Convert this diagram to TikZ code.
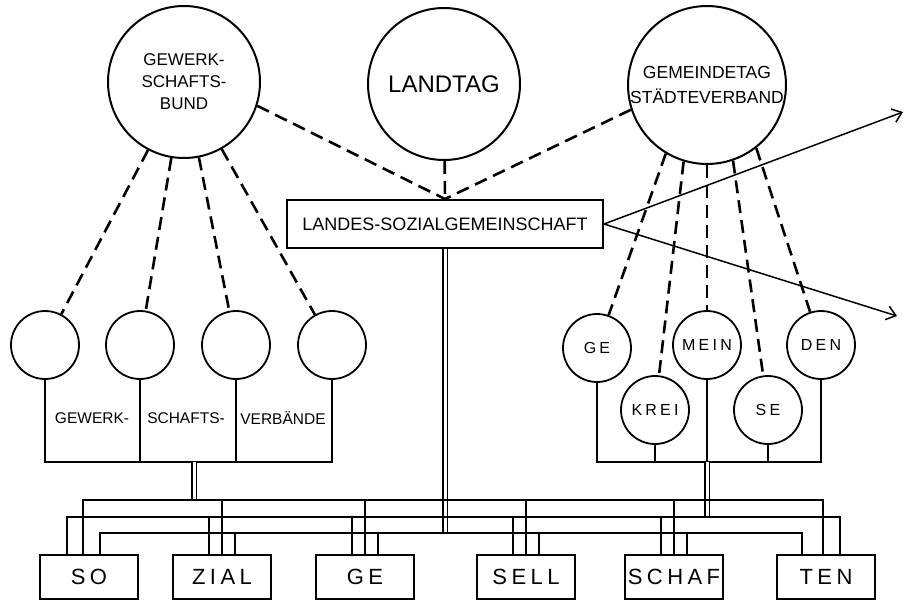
\documentclass[tikz,border=0pt]{standalone}
\usepackage{fontspec}
\setmainfont{Liberation Sans}
\newfontfamily\spacedfont[LetterSpace=20]{Liberation Sans}
\usetikzlibrary{arrows.meta, calc}

\begin{document}
\begin{tikzpicture}[x=1pt, y=-1pt,
  bigcirc/.style={draw, circle, line width=2pt, minimum size=152pt, inner sep=0pt, align=center},
  smallcirc/.style={draw, circle, line width=1.8pt, minimum size=68pt, inner sep=0pt, font=\spacedfont\fontsize{16}{18}\selectfont},
  unitbox/.style={draw, line width=1.8pt, minimum width=98pt, minimum height=44pt, inner sep=0pt, font=\spacedfont\fontsize{22}{24}\selectfont},
  link/.style={line width=2.6pt, dash pattern=on 13pt off 7pt},
  wire/.style={line width=1.6pt},
  bus/.style={line width=1.6pt},
  feed/.style={double, double distance=3pt, line width=1.2pt},
  outarrow/.style={line width=1.5pt, -{Straight Barb[length=9pt, width=14pt, line width=1.5pt]}}]
\useasboundingbox (0,0) rectangle (908,603);
\fill[white] (0,0) rectangle (908,603);
% top row: the three big bodies and the joint committee
\node[bigcirc, font=\fontsize{17}{22}\selectfont] (gwb) at (184,82) {GEWERK-\\SCHAFTS-\\BUND};
\node[bigcirc, font=\fontsize{24}{26}\selectfont] (landtag) at (444,84) {LANDTAG};
\node[bigcirc, minimum size=154pt, font=\fontsize{17.5}{25}\selectfont] (gemeinde) at (707,85) {GEMEINDETAG\\STÄDTEVERBAND};
\node[draw, line width=2pt, minimum width=316pt, minimum height=48pt, font=\fontsize{18}{20}\selectfont] (lsg) at (445,224) {LANDES-SOZIALGEMEINSCHAFT};
% left group: unions
\foreach \x [count=\i] in {45,140,236,332} { \node[smallcirc] (g\i) at (\x,345) {}; }
\node[font=\fontsize{15.5}{17}\selectfont] (lab1) at (92,418) {GEWERK-};
\node[font=\fontsize{15.5}{17}\selectfont] (lab2) at (186,418) {SCHAFTS-};
\node[font=\fontsize{15.5}{17}\selectfont] (lab3) at (283,418) {VERBÄNDE};
% right group: municipal bodies
\node[smallcirc] (kge) at (597,348) {GE};
\node[smallcirc] (kmein) at (707,345) {MEIN};
\node[smallcirc] (kden) at (821,345) {DEN};
\node[smallcirc] (kkrei) at (655,410) {KREI};
\node[smallcirc] (kse) at (768,410) {SE};
% bottom row of member units
\foreach \x/\n/\t in {89/so/SO, 222/zial/ZIAL, 365/ge/GE, 526/sell/SELL, 674/schaf/SCHAF, 826/ten/TEN} {
  \node[unitbox] (\n) at (\x,577) {\t};
}
% dashed links
\foreach \i in {1,...,4} { \draw[link] (gwb) -- (g\i); }
\draw[link] (gwb.-18) -- (lsg.north);
\draw[link] (landtag) -- (lsg.north);
\draw[link] (gemeinde.198) -- (lsg.north);
\foreach \a/\k in {-121/kge, -107/kkrei, -90/kmein, -71/kse, -52/kden} { \draw[link] (gemeinde.\a) -- (\k); }
% solid wires under the groups
\coordinate (gjoin) at (194,462);
\coordinate (kjoin) at (0,462);
\draw[wire] (g1.south) |- (g4.south |- gjoin) -- (g4.south);
\draw[wire] (g2.south) -- (g2.south |- gjoin);
\draw[wire] (g3.south) -- (g3.south |- gjoin);
\draw[wire] (kge.south) |- (kden.south |- kjoin) -- (kden.south);
\foreach \k in {kkrei, kmein, kse} { \draw[wire] (\k.south) -- (\k.south |- kjoin); }
% double feeds into the three buses
\coordinate (topbus) at (0,500);
\coordinate (midbus) at (0,517);
\coordinate (lowbus) at (0,533);
\draw[feed] (gjoin) -- (gjoin |- topbus);
\draw[feed] (kmein.south |- kjoin) -- (kmein.south |- midbus);
\draw[feed] (lsg.south) -- (lsg.south |- lowbus);
% the three buses and their drops
\draw[bus] ([xshift=-6pt]so.north) |- ([xshift=-3pt]ten.north |- topbus) -- ([xshift=-3pt]ten.north);
\draw[bus] ([xshift=-22pt]so.north) |- ([xshift=14pt]ten.north |- midbus) -- ([xshift=14pt]ten.north);
\draw[bus] ([xshift=11pt]so.north) |- ([xshift=-24pt]ten.north |- lowbus) -- ([xshift=-24pt]ten.north);
\foreach \b in {zial, ge, sell, schaf} {
  \draw[bus] (\b.north) -- (\b.north |- topbus);
  \draw[bus] ([xshift=-13pt]\b.north) -- ([xshift=-13pt]\b.north |- midbus);
  \draw[bus] ([xshift=13pt]\b.north) -- ([xshift=13pt]\b.north |- lowbus);
}
% outgoing arrows
\coordinate (outA) at (903,112);
\coordinate (outB) at (897,316);
\draw[outarrow] (lsg.east) -- (outA);
\draw[outarrow] (lsg.east) -- (outB);
\end{tikzpicture}
\end{document}
